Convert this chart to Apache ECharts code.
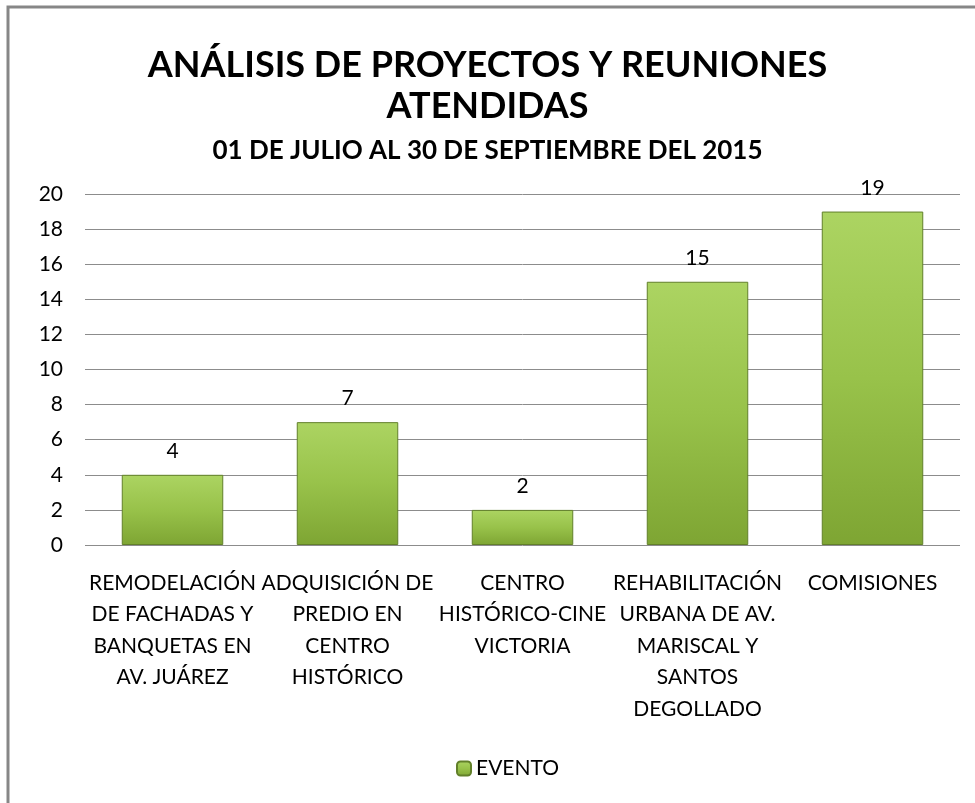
<!DOCTYPE html>
<html>
<head>
<meta charset="utf-8">
<script src="https://cdn.jsdelivr.net/npm/echarts@6/dist/echarts.min.js"></script>
<style>
  html, body { margin: 0; padding: 0; background: #fff; }
  #chart { width: 975px; height: 803px; }
</style>
</head>
<body>
<div id="chart"></div>
<script>
const categories = [
  'REMODELACIÓN\nDE FACHADAS Y\nBANQUETAS EN\nAV. JUÁREZ',
  'ADQUISICIÓN DE\nPREDIO EN\nCENTRO\nHISTÓRICO',
  'CENTRO\nHISTÓRICO-CINE\nVICTORIA',
  'REHABILITACIÓN\nURBANA DE AV.\nMARISCAL Y\nSANTOS\nDEGOLLADO',
  'COMISIONES'
]
const evento = [4, 7, 2, 15, 19]

const font = 'Lato, "Open Sans", sans-serif'
const chart = echarts.init(document.getElementById('chart'))

chart.setOption({
  animation: false,
  title: [
    {
      text: 'ANÁLISIS DE PROYECTOS Y REUNIONES\nATENDIDAS',
      left: 'center',
      top: 40,
      textStyle: {
        fontFamily: font,
        fontWeight: 'bold',
        fontSize: 36,
        lineHeight: 41,
        color: '#000'
      }
    },
    {
      text: '01 DE JULIO AL 30 DE SEPTIEMBRE DEL 2015',
      left: 'center',
      top: 133,
      textStyle: {
        fontFamily: font,
        fontWeight: 'bold',
        fontSize: 26,
        color: '#000'
      }
    }
  ],
  graphic: [{
    type: 'rect',
    shape: { x: 8, y: 7, width: 1200, height: 1200 },
    style: { fill: 'none', stroke: '#878787', lineWidth: 3 },
    silent: true
  }],
  grid: { left: 85, right: 15, top: 194, bottom: 258 },
  legend: {
    bottom: 19,
    left: 451,
    itemWidth: 14,
    itemHeight: 14,
    itemGap: 4,
    textStyle: { fontFamily: font, fontSize: 21, color: '#000' },
    data: ['EVENTO']
  },
  xAxis: {
    type: 'category',
    data: categories,
    axisLine: { show: false },
    axisTick: { show: false },
    axisLabel: {
      interval: 0,
      margin: 22,
      fontFamily: font,
      fontSize: 21,
      lineHeight: 31.5,
      color: '#000',
      align: 'center'
    }
  },
  yAxis: {
    type: 'value',
    min: 0,
    max: 20,
    interval: 2,
    axisLine: { show: false },
    axisTick: { show: false },
    axisLabel: {
      margin: 22,
      fontFamily: font,
      fontSize: 21,
      color: '#000'
    },
    splitLine: { lineStyle: { color: '#8c8c8c', width: 1 } }
  },
  series: [{
    name: 'EVENTO',
    type: 'bar',
    data: evento,
    barWidth: '58%',
    itemStyle: {
      color: new echarts.graphic.LinearGradient(0, 0, 0, 1, [
        { offset: 0, color: '#acd462' },
        { offset: 0.5, color: '#98c24a' },
        { offset: 1, color: '#7ea533' }
      ]),
      borderColor: '#62802a',
      borderWidth: 1
    },
    label: {
      show: true,
      position: 'top',
      distance: 13,
      fontFamily: font,
      fontSize: 21,
      color: '#000'
    }
  }]
})
</script>
</body>
</html>
